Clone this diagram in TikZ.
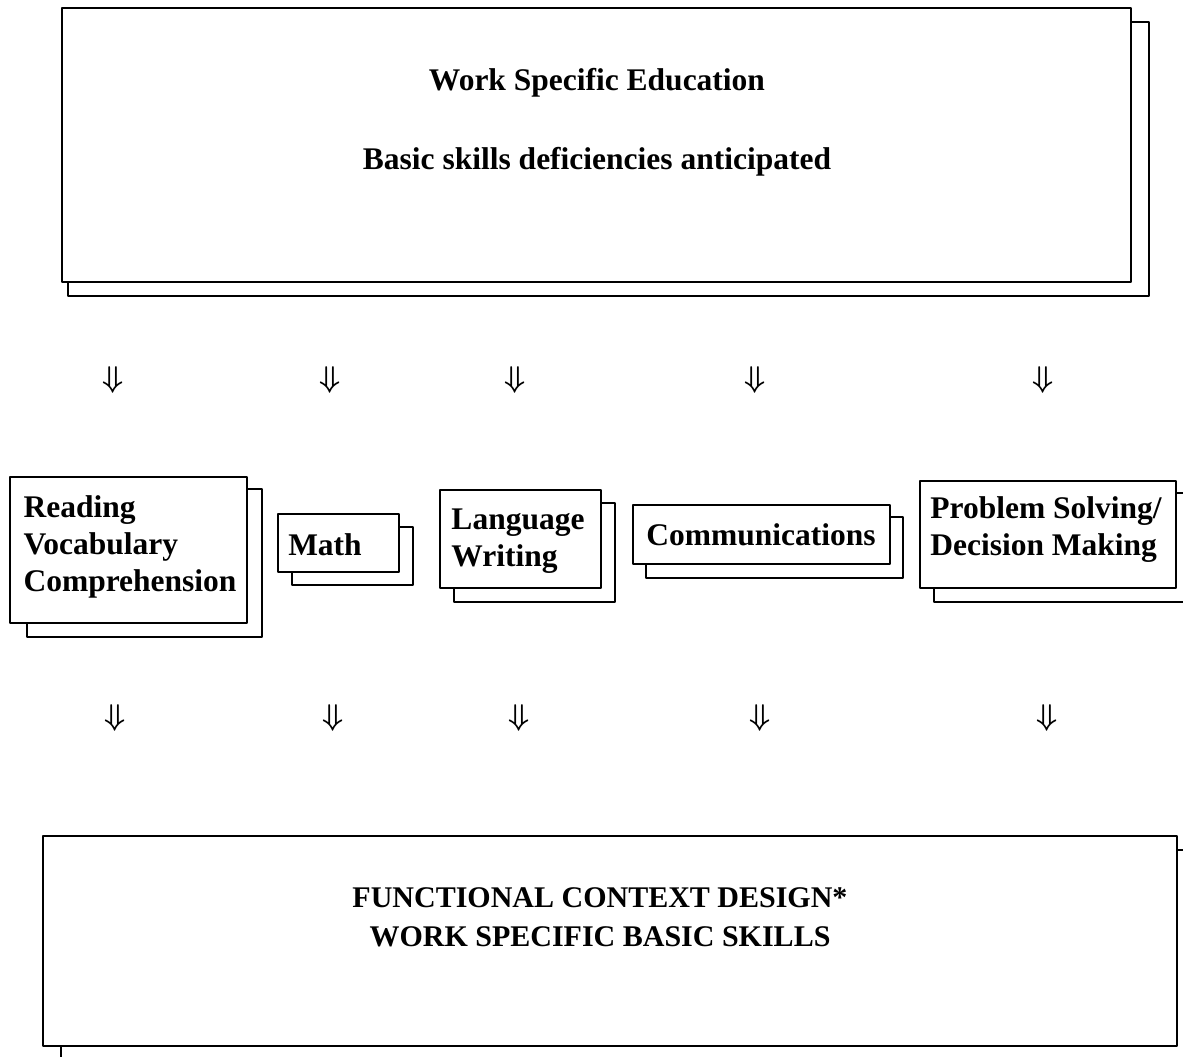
\documentclass[tikz,border=0pt]{standalone}
\usepackage{amsmath}
\usepackage{amssymb}
\usepackage{fontspec}
\setmainfont{Liberation Serif}

\tikzset{card/.style={draw,fill=white,line width=1.4pt,inner sep=0pt},
  lbl/.style={font=\bfseries\fontsize{31.5}{37}\selectfont,align=left,inner sep=0pt},
  arw/.style={scale=3,inner sep=0pt}}

\begin{document}
\begin{tikzpicture}[line cap=round,line join=round,x=1pt,y=-1pt]
\useasboundingbox (0,0) rectangle (1183,1057);
\clip (0,0) rectangle (1183,1057);
% top box
\draw[card] (68,22) rectangle (1149,296);
\draw[card] (62,8) rectangle (1131,282);
\node[lbl] (wse) at (597,83) {Work Specific Education};
\node[lbl] (bsd) at (597,162) {Basic skills deficiencies anticipated};
% arrows
\foreach \xa/\xb [count=\i] in {113/115,330/333,515/519,755/760,1043/1047}{
  \node[arw] (up\i) at (\xa,380) {$\boldsymbol{\Downarrow}$};
  \node[arw] (dn\i) at (\xb,718) {$\boldsymbol{\Downarrow}$};
}
% skill boxes
\draw[card] (27,489) rectangle (262,637);
\draw[card] (10,477) rectangle (247,623);
\node[lbl] (read) at (130,547) {Reading\\Vocabulary\\Comprehension};
\draw[card] (292,527) rectangle (413,585);
\draw[card] (278,514) rectangle (399,572);
\node[lbl] (math) at (325,545) {Math};
\draw[card] (454,503) rectangle (615,602);
\draw[card] (440,490) rectangle (601,588);
\node[lbl] (lang) at (518,541) {Language\\Writing};
\draw[card] (646,517) rectangle (903,578);
\draw[card] (633,505) rectangle (890,564);
\node[lbl] (comm) at (761,535) {Communications};
\draw[card] (934,493) rectangle (1195,602);
\draw[card] (920,481) rectangle (1176,588);
\node[lbl] (prob) at (1046,530) {Problem Solving/\\Decision Making};
% bottom box
\draw[card] (61,850) rectangle (1195,1070);
\draw[card] (43,836) rectangle (1177,1046);
\node[lbl,font=\bfseries\fontsize{30}{36}\selectfont] (fcd) at (600,898) {FUNCTIONAL CONTEXT DESIGN*};
\node[lbl,font=\bfseries\fontsize{30}{36}\selectfont] (wsb) at (600,937) {WORK SPECIFIC BASIC SKILLS};
\end{tikzpicture}
\end{document}
